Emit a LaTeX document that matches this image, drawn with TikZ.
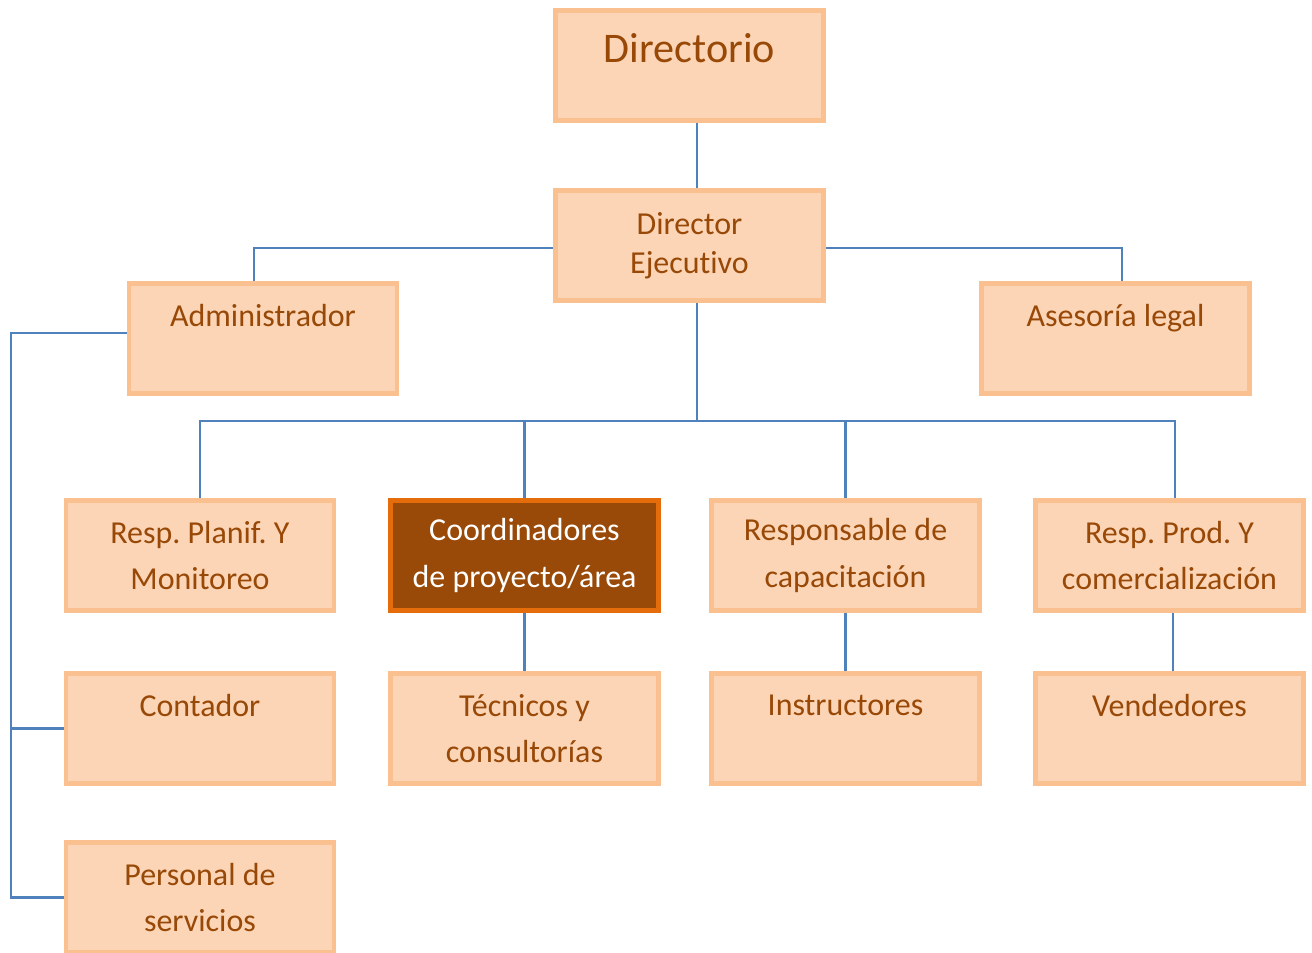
\documentclass[tikz,border=0pt]{standalone}
\usepackage{fontspec}
\setmainfont[Ligatures=NoCommon]{Carlito}
\usepackage{tikz}
\usepackage{xcolor}
\usetikzlibrary{positioning}
\definecolor{boxfill}{RGB}{251, 213, 181}
\definecolor{boxline}{RGB}{250, 192, 144}
\definecolor{boxtext}{RGB}{152, 72, 7}
\definecolor{darkfill}{RGB}{154, 74, 8}
\definecolor{darkline}{RGB}{228, 108, 10}
\definecolor{linkblue}{RGB}{79, 129, 189}
\tikzstyle{orgbox} = [
    rectangle,
    minimum width=5.36cm,
    minimum height=2.2cm,
    inner sep=0pt,
    align=center,
    line width=2.8pt,
    draw=boxline,
    fill=boxfill,
    text=boxtext,
    font=\fontsize{18.2}{26.6}\selectfont\frenchspacing
]
\tikzstyle{darkbox} = [
    orgbox,
    draw=darkline,
    fill=darkfill,
    text=white
]
\tikzstyle{link} = [
    line width=1.2pt,
    draw=linkblue
]

\begin{document}
\begin{tikzpicture}[x=0.02cm, y=-0.02cm]
    \useasboundingbox (0,0) rectangle (1312,953);
    % boxes
    \node[orgbox, font=\fontsize{24}{20}\selectfont] (dir) at (689.5,65.5) {Directorio\\~};
    \node[orgbox, font=\fontsize{18.2}{22}\selectfont] (dirj) at (689.5,245.5) {Director\\Ejecutivo};
    \node[orgbox] (adm) at (263,338.5) {Administrador\\~};
    \node[orgbox] (ase) at (1115.5,338.5) {Asesoría legal\\~};
    \node[orgbox] (plan) at (200,555.5) {Resp. Planif. Y\\Monitoreo};
    \node[darkbox] (coord) at (524.5,555.5) {Coordinadores\\de proyecto/área};
    \node[orgbox] (cap) at (845.5,555.5) {Responsable de\\capacitación};
    \node[orgbox] (prod) at (1169.5,555.5) {Resp. Prod. Y\\comercialización};
    \node[orgbox] (cont) at (200,728.5) {Contador\\~};
    \node[orgbox] (tec) at (524.5,728.5) {Técnicos y\\consultorías};
    \node[orgbox] (ins) at (845.5,728.5) {Instructores\\~};
    \node[orgbox] (ven) at (1169.5,728.5) {Vendedores\\~};
    \node[orgbox] (pers) at (200,897.5) {Personal de\\servicios};
    % connectors
    \coordinate (bus) at (697,421);
    \coordinate (trunk) at (11,333);
    \draw[link] (dir.south -| bus) -- (dirj.north -| bus);
    \draw[link] ([yshift=-0.05cm]dirj.west) -| ([xshift=-0.18cm]adm.north);
    \draw[link] ([yshift=-0.05cm]dirj.east) -| ([xshift=0.13cm]ase.north);
    \draw[link] (dirj.south -| bus) -- (bus);
    \draw[link] (plan.north) |- (bus) -| ([xshift=0.11cm]prod.north);
    \draw[link] (coord.north |- bus) -- (coord.north);
    \draw[link] (cap.north |- bus) -- (cap.north);
    \draw[link] (coord.south) -- (tec.north);
    \draw[link] (cap.south) -- (ins.north);
    \draw[link] ([xshift=0.07cm]prod.south) -- ([xshift=0.07cm]ven.north);
    \draw[link] (adm.west |- trunk) -- (trunk) |- (pers.west);
    \draw[link] (cont.west -| trunk) -- (cont.west);
\end{tikzpicture}
\end{document}
